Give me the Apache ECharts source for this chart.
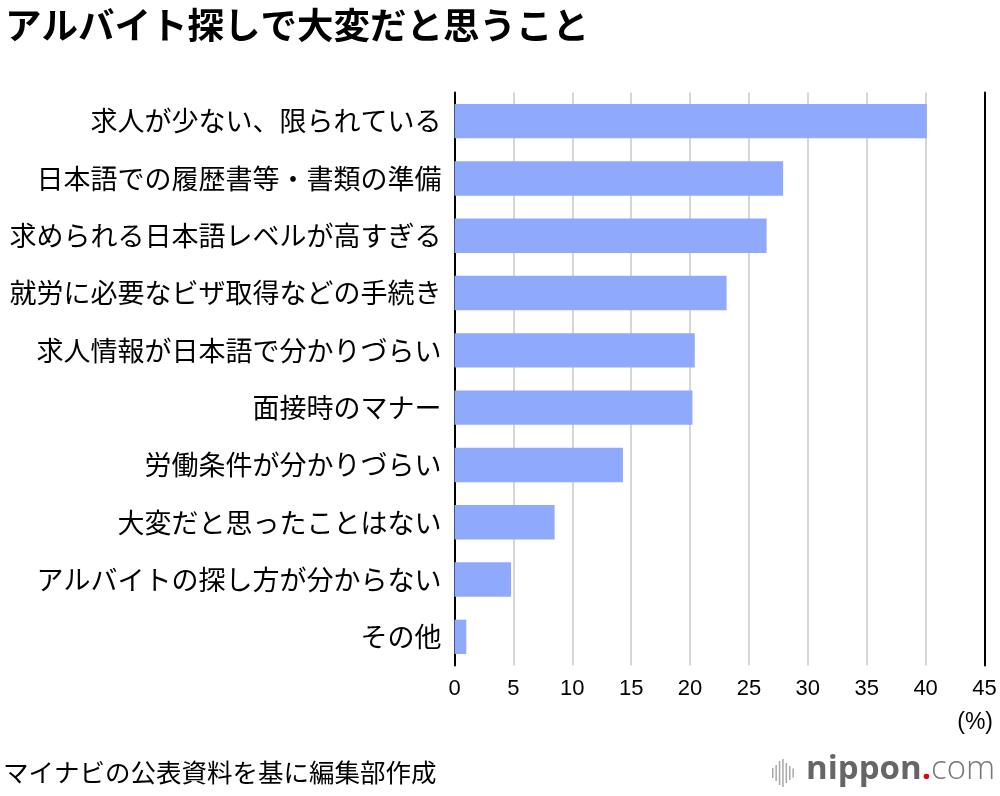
<!DOCTYPE html>
<html>
<head>
<meta charset="utf-8">
<script src="https://cdn.jsdelivr.net/npm/echarts@6/dist/echarts.min.js"></script>
<style>
html,body{margin:0;padding:0;background:#fff;}
#c{width:1000px;height:796px;}
</style>
</head>
<body>
<div id="c"></div>
<script>
const categories = [
  '求人が少ない、限られている',
  '日本語での履歴書等・書類の準備',
  '求められる日本語レベルが高すぎる',
  '就労に必要なビザ取得などの手続き',
  '求人情報が日本語で分かりづらい',
  '面接時のマナー',
  '労働条件が分かりづらい',
  '大変だと思ったことはない',
  'アルバイトの探し方が分からない',
  'その他'
];
const values = [40.1, 27.9, 26.5, 23.1, 20.4, 20.2, 14.3, 8.5, 4.8, 1.0];
const xTicks = { min: 0, max: 45, interval: 5 };

const FONT = '"Noto Sans CJK JP", "Noto Sans", sans-serif';
const NUMFONT = '"Liberation Sans", Arial, sans-serif';
const chart = echarts.init(document.getElementById('c'));

const logoBars = [];
const barHeights = [10, 16, 24, 28, 20, 14, 9];
barHeights.forEach((h, i) => {
  logoBars.push({
    type: 'rect',
    shape: { x: 772 + i * 3.4, y: 773 - h / 2, width: 1.5, height: h },
    style: { fill: '#a8a8a8' }
  });
});

chart.setOption({
  animation: false,
  backgroundColor: '#fff',
  textStyle: { fontFamily: FONT },
  title: {
    text: 'アルバイト探しで大変だと思うこと',
    left: 0,
    top: 2,
    textStyle: { fontFamily: FONT, fontSize: 36.5, fontWeight: 'bold', color: '#000' }
  },
  grid: { left: 454.5, right: 15.5, top: 92.5, bottom: 130.5, containLabel: false },
  xAxis: {
    type: 'value',
    min: xTicks.min,
    max: xTicks.max,
    interval: xTicks.interval,
    axisLine: { show: false },
    axisTick: { show: false },
    axisLabel: { fontFamily: NUMFONT, fontSize: 22, color: '#000', margin: 12 },
    splitLine: { show: true, lineStyle: { color: '#cccccc', width: 1.6 } }
  },
  yAxis: [
    {
      type: 'category',
      data: categories,
      inverse: true,
      axisLine: { show: true, onZero: false, lineStyle: { color: '#000', width: 2 } },
      axisTick: { show: false },
      axisLabel: { fontFamily: FONT, fontSize: 27, color: '#000', margin: 13 },
      splitLine: { show: false }
    },
    {
      type: 'category',
      data: categories,
      inverse: true,
      position: 'right',
      axisLine: { show: true, onZero: false, lineStyle: { color: '#000', width: 2 } },
      axisTick: { show: false },
      axisLabel: { show: false },
      splitLine: { show: false }
    }
  ],
  series: [{
    type: 'bar',
    data: values,
    yAxisIndex: 0,
    barWidth: '60%',
    itemStyle: { color: '#8faafc' },
    silent: true
  }],
  graphic: [
    {
      type: 'text',
      right: 7,
      top: 711,
      style: { text: '(%)', font: '23px ' + NUMFONT, fill: '#000' }
    },
    {
      type: 'text',
      left: 3,
      top: 760,
      style: { text: 'マイナビの公表資料を基に編集部作成', font: '25.5px ' + FONT, fill: '#000' }
    },
    {
      type: 'text',
      left: 806,
      top: 753,
      style: {
        rich: {
          a: { fontFamily: '"Open Sans", sans-serif', fontSize: 33, fontWeight: 'bold', fill: '#666666' },
          b: { fontFamily: '"Open Sans", sans-serif', fontSize: 33, fontWeight: 'bold', fill: '#e60012' },
          c: { fontFamily: '"Open Sans", sans-serif', fontSize: 33, fontWeight: 300, fill: '#777777' }
        },
        text: '{a|nippon}{b|.}{c|com}'
      }
    }
  ].concat(logoBars)
});
</script>
</body>
</html>
